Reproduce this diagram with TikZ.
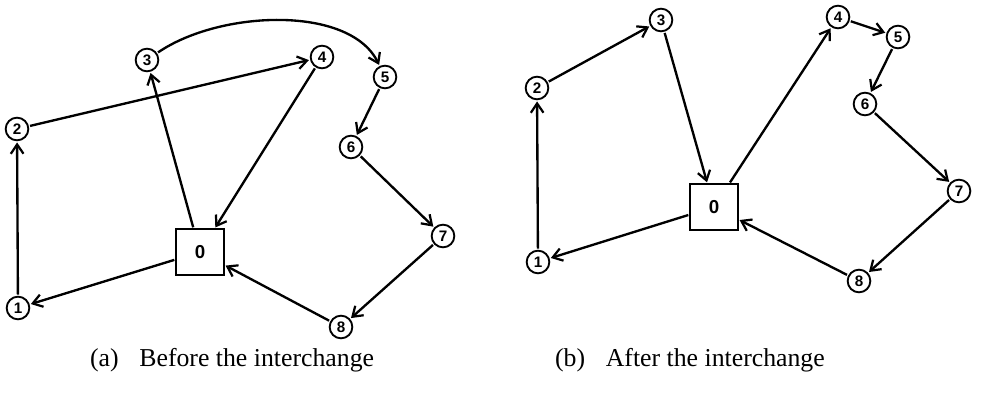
\documentclass[tikz,border=0pt]{standalone}
\usepackage{fontspec}
\setmainfont{Liberation Serif}
\newfontfamily\numfont{Liberation Sans}
\usetikzlibrary{arrows.meta}
\begin{document}
\begin{tikzpicture}[x=0.03cm,y=-0.03cm,
  vtx/.style={circle,draw,line width=1.6pt,minimum size=0.68cm,inner sep=0pt,font=\numfont\bfseries\fontsize{13}{13}\selectfont},
  depot/.style={rectangle,draw,line width=1.5pt,minimum width=1.42cm,minimum height=1.36cm,inner sep=0pt,font=\numfont\bfseries\fontsize{16}{16}\selectfont},
  edge/.style={line width=2pt,-{Straight Barb[length=2.8mm,width=3.8mm,line width=1.9pt]},shorten >=1pt,shorten <=1pt},
  captext/.style={font=\fontsize{22}{22}\selectfont,anchor=base west}]
\useasboundingbox (0,0) rectangle (982,397);
% (a)
\node[depot] (a0) at (200,252) {0};
\node[vtx] (a1) at (18,308) {1};
\node[vtx] (a2) at (17,129) {2};
\node[vtx] (a3) at (147,60) {3};
\node[vtx] (a4) at (322,57) {4};
\node[vtx] (a5) at (385,77) {5};
\node[vtx] (a6) at (351,147) {6};
\node[vtx] (a7) at (443,236) {7};
\node[vtx] (a8) at (341,327) {8};
\draw[edge] (a1) -- (a2);
\draw[edge] (a2) -- (a4);
\draw[edge] (a3) .. controls (220,10) and (350,5) .. (a5);
\draw[edge] (a0) -- (a3);
\draw[edge] (a4) -- (a0);
\draw[edge] (a5) -- (a6);
\draw[edge] (a6) -- (a7);
\draw[edge] (a7) -- (a8);
\draw[edge] (a8) -- (a0);
\draw[edge] (a0) -- (a1);
% (b)
\node[depot] (b0) at (714,207) {0};
\node[vtx] (b1) at (538,262) {1};
\node[vtx] (b2) at (537,88) {2};
\node[vtx] (b3) at (661,20) {3};
\node[vtx] (b4) at (838,17) {4};
\node[vtx] (b5) at (898,37) {5};
\node[vtx] (b6) at (865,104) {6};
\node[vtx] (b7) at (959,191) {7};
\node[vtx] (b8) at (859,281) {8};
\draw[edge] (b1) -- (b2);
\draw[edge] (b2) -- (b3);
\draw[edge] (b3) -- (b0);
\draw[edge] (b0) -- (b4);
\draw[edge] (b4) -- (b5);
\draw[edge] (b5) -- (b6);
\draw[edge] (b6) -- (b7);
\draw[edge] (b7) -- (b8);
\draw[edge] (b8) -- (b0);
\draw[edge] (b0) -- (b1);
% captions
\node[captext] (capa) at (86,366) {(a)\hspace{0.8em}Before the interchange};
\node[captext] (capb) at (551,366) {(b)\hspace{0.8em}After the interchange};
\end{tikzpicture}
\end{document}
